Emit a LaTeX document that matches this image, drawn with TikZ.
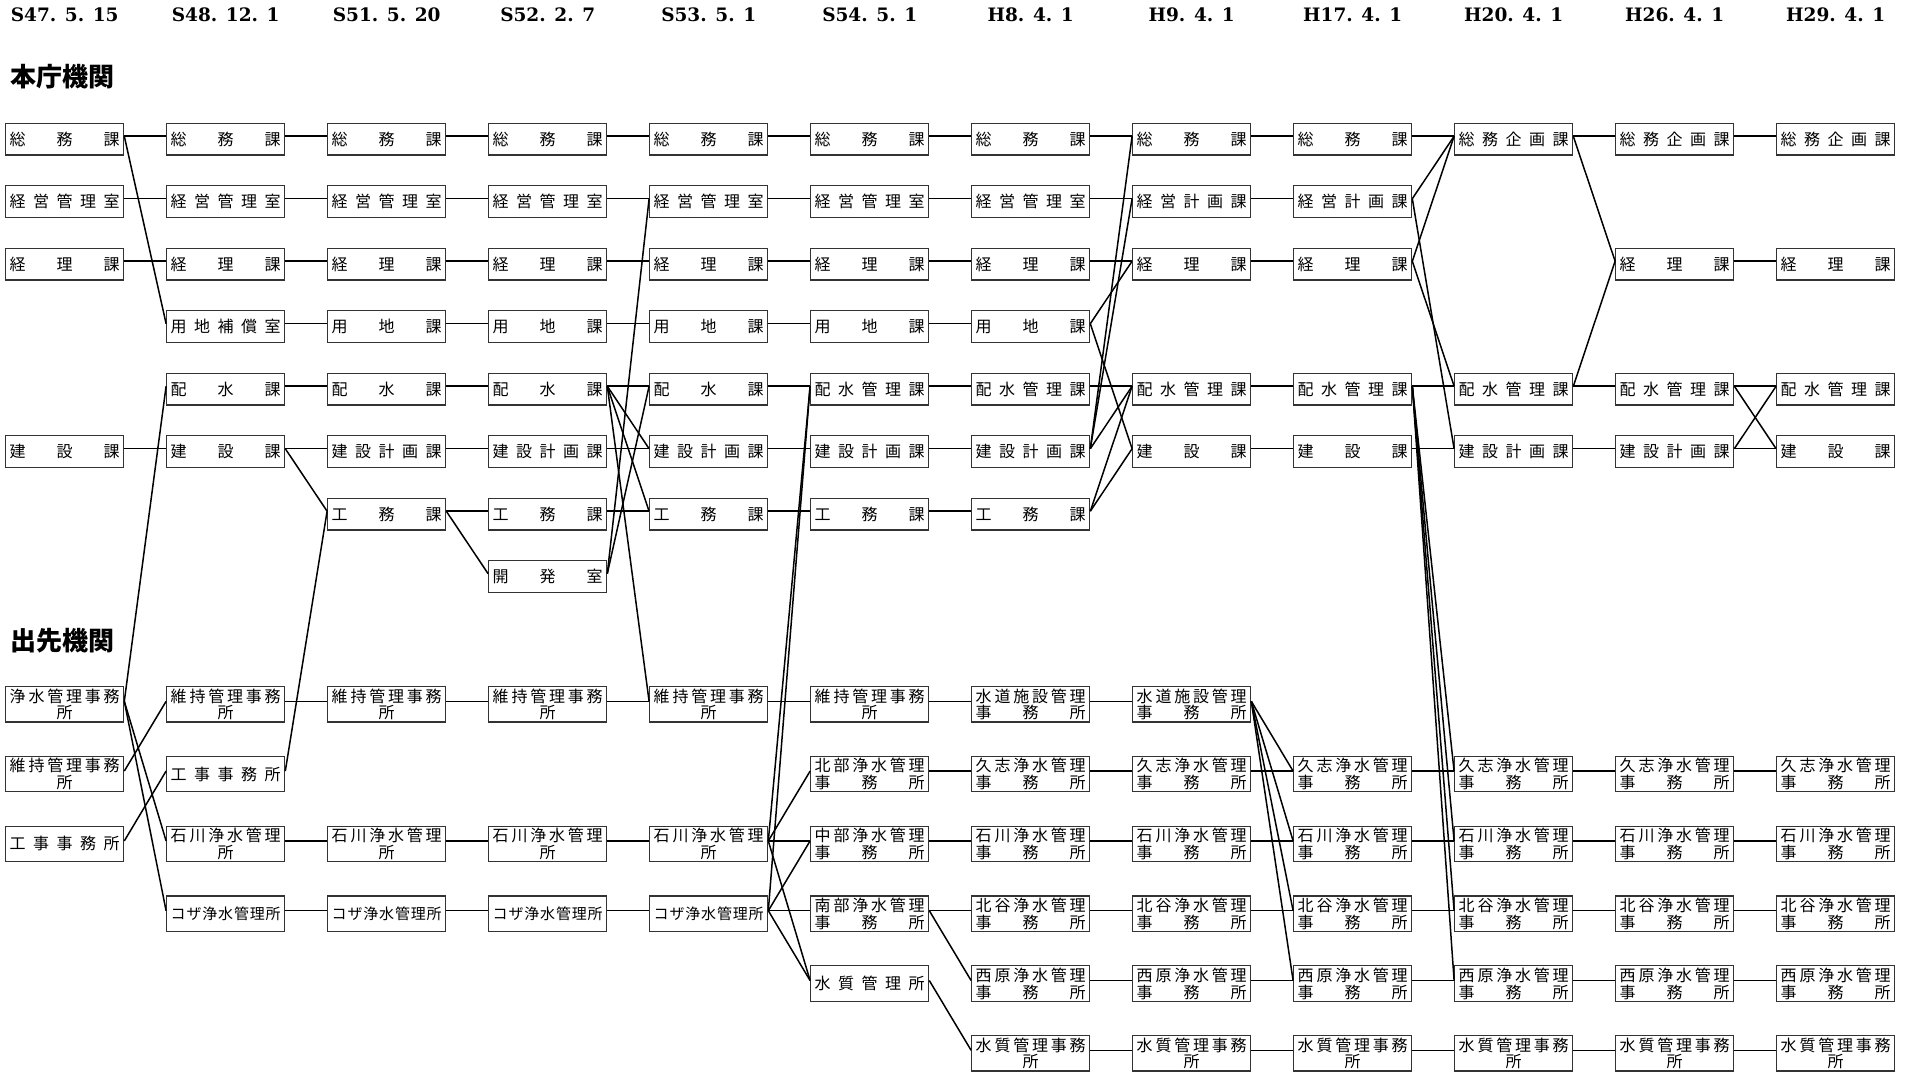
\documentclass[tikz,border=0pt]{standalone}
\usepackage{fontspec}
\newfontfamily\cjk{Noto Sans CJK JP}
\newfontfamily\hdrfont{DejaVu Serif}
\newlength\jw
\setlength\jw{110pt}
\newcommand\jthree[3]{\hbox to \jw{#1\hfill #2\hfill #3}}
\newcommand\jfive[5]{\hbox to \jw{#1\hfill #2\hfill #3\hfill #4\hfill #5}}
\newcommand\jsix[6]{\hbox to \jw{#1\hfill #2\hfill #3\hfill #4\hfill #5\hfill #6}}
\newcommand\jseven[7]{\hbox to \jw{\fontsize{15pt}{16.6pt}\selectfont #1\hfill #2\hfill #3\hfill #4\hfill #5\hfill #6\hfill #7}}
\newcommand\jtc[6]{\vbox{\baselineskip=16.8pt\lineskiplimit=-20pt\jsix{#1}{#2}{#3}{#4}{#5}{#6}\hbox to\jw{\hfill 所\hfill}}}
\newcommand\jts[6]{\vbox{\baselineskip=16.8pt\lineskiplimit=-20pt\jsix{#1}{#2}{#3}{#4}{#5}{#6}\jthree 事務所}}
\newcommand\LSomu{\jthree 総務課}
\newcommand\LKeiei{\jfive 経営管理室}
\newcommand\LKeiri{\jthree 経理課}
\newcommand\LKensetsu{\jthree 建設課}
\newcommand\LYochiH{\jfive 用地補償室}
\newcommand\LHaisui{\jthree 配水課}
\newcommand\LYochi{\jthree 用地課}
\newcommand\LKenkei{\jfive 建設計画課}
\newcommand\LKomu{\jthree 工務課}
\newcommand\LKaihatsu{\jthree 開発室}
\newcommand\LHaikan{\jfive 配水管理課}
\newcommand\LKeikei{\jfive 経営計画課}
\newcommand\LSokiku{\jfive 総務企画課}
\newcommand\LJosui{\jtc 浄水管理事務}
\newcommand\LIji{\jtc 維持管理事務}
\newcommand\LKoji{\jfive 工事事務所}
\newcommand\LIshiS{\jtc 石川浄水管理}
\newcommand\LKoza{\jseven コザ浄水管理所}
\newcommand\LHokubu{\jts 北部浄水管理}
\newcommand\LChubu{\jts 中部浄水管理}
\newcommand\LNanbu{\jts 南部浄水管理}
\newcommand\LSuiS{\jfive 水質管理所}
\newcommand\LSuido{\jts 水道施設管理}
\newcommand\LKushi{\jts 久志浄水管理}
\newcommand\LIshi{\jts 石川浄水管理}
\newcommand\LChatan{\jts 北谷浄水管理}
\newcommand\LNishi{\jts 西原浄水管理}
\newcommand\LSuiJ{\jtc 水質管理事務}
\newcommand\hn[3]{\node[hbx] (h#1r#2) at ({64.7+161*#1},{139.2+62.5*#2}) {#3};}
\newcommand\dn[3]{\node[dbx] (d#1r#2) at ({64.7+161*#1},{704.3+69.8*#2}) {#3};}
\newcommand\lk[2]{\draw[conn] ([yshift=3pt]#1.east) -- ([yshift=3pt]#2.west);}
\tikzset{
  orgbox/.style={draw=black!80, line width=1.2pt, inner sep=0pt, minimum width=118pt,
    font=\cjk\fontsize{16pt}{16.8pt}\selectfont},
  hbx/.style={orgbox, minimum height=31.7pt},
  dbx/.style={orgbox, minimum height=35.5pt},
  conn/.style={line width=1.5pt, black},
  hdrsty/.style={font=\hdrfont\bfseries\fontsize{18.5pt}{22pt}\selectfont, inner sep=0pt},
  ttlsty/.style={font=\cjk\bfseries\fontsize{26pt}{30pt}\selectfont, inner sep=0pt, anchor=west},
}
\begin{document}
\begin{tikzpicture}[x=1pt,y=-1pt]
\useasboundingbox (0,0) rectangle (1914,1073);
% headers
\node[hdrsty] (t0) at ({64.7+161*0},15) {S47. 5. 15};
\node[hdrsty] (t1) at ({64.7+161*1},15) {S48. 12. 1};
\node[hdrsty] (t2) at ({64.7+161*2},15) {S51. 5. 20};
\node[hdrsty] (t3) at ({64.7+161*3},15) {S52. 2. 7};
\node[hdrsty] (t4) at ({64.7+161*4},15) {S53. 5. 1};
\node[hdrsty] (t5) at ({64.7+161*5},15) {S54. 5. 1};
\node[hdrsty] (t6) at ({64.7+161*6},15) {H8. 4. 1};
\node[hdrsty] (t7) at ({64.7+161*7},15) {H9. 4. 1};
\node[hdrsty] (t8) at ({64.7+161*8},15) {H17. 4. 1};
\node[hdrsty] (t9) at ({64.7+161*9},15) {H20. 4. 1};
\node[hdrsty] (t10) at ({64.7+161*10},15) {H26. 4. 1};
\node[hdrsty] (t11) at ({64.7+161*11},15) {H29. 4. 1};
\node[ttlsty] (honcho) at (10,76.7) {本庁機関};
\node[ttlsty] (desaki) at (10,641) {出先機関};
% col0
\hn{0}{0}{\LSomu}\hn{0}{1}{\LKeiei}\hn{0}{2}{\LKeiri}\hn{0}{5}{\LKensetsu}
\dn{0}{0}{\LJosui}\dn{0}{1}{\LIji}\dn{0}{2}{\LKoji}
% col1
\hn{1}{0}{\LSomu}\hn{1}{1}{\LKeiei}\hn{1}{2}{\LKeiri}\hn{1}{3}{\LYochiH}\hn{1}{4}{\LHaisui}\hn{1}{5}{\LKensetsu}
\dn{1}{0}{\LIji}\dn{1}{1}{\LKoji}\dn{1}{2}{\LIshiS}\dn{1}{3}{\LKoza}
% col2
\hn{2}{0}{\LSomu}\hn{2}{1}{\LKeiei}\hn{2}{2}{\LKeiri}\hn{2}{3}{\LYochi}\hn{2}{4}{\LHaisui}\hn{2}{5}{\LKenkei}\hn{2}{6}{\LKomu}
\dn{2}{0}{\LIji}\dn{2}{2}{\LIshiS}\dn{2}{3}{\LKoza}
% col3
\hn{3}{0}{\LSomu}\hn{3}{1}{\LKeiei}\hn{3}{2}{\LKeiri}\hn{3}{3}{\LYochi}\hn{3}{4}{\LHaisui}\hn{3}{5}{\LKenkei}\hn{3}{6}{\LKomu}\hn{3}{7}{\LKaihatsu}
\dn{3}{0}{\LIji}\dn{3}{2}{\LIshiS}\dn{3}{3}{\LKoza}
% col4
\hn{4}{0}{\LSomu}\hn{4}{1}{\LKeiei}\hn{4}{2}{\LKeiri}\hn{4}{3}{\LYochi}\hn{4}{4}{\LHaisui}\hn{4}{5}{\LKenkei}\hn{4}{6}{\LKomu}
\dn{4}{0}{\LIji}\dn{4}{2}{\LIshiS}\dn{4}{3}{\LKoza}
% col5
\hn{5}{0}{\LSomu}\hn{5}{1}{\LKeiei}\hn{5}{2}{\LKeiri}\hn{5}{3}{\LYochi}\hn{5}{4}{\LHaikan}\hn{5}{5}{\LKenkei}\hn{5}{6}{\LKomu}
\dn{5}{0}{\LIji}\dn{5}{1}{\LHokubu}\dn{5}{2}{\LChubu}\dn{5}{3}{\LNanbu}\dn{5}{4}{\LSuiS}
% col6
\hn{6}{0}{\LSomu}\hn{6}{1}{\LKeiei}\hn{6}{2}{\LKeiri}\hn{6}{3}{\LYochi}\hn{6}{4}{\LHaikan}\hn{6}{5}{\LKenkei}\hn{6}{6}{\LKomu}
\dn{6}{0}{\LSuido}\dn{6}{1}{\LKushi}\dn{6}{2}{\LIshi}\dn{6}{3}{\LChatan}\dn{6}{4}{\LNishi}\dn{6}{5}{\LSuiJ}
% col7
\hn{7}{0}{\LSomu}\hn{7}{1}{\LKeikei}\hn{7}{2}{\LKeiri}\hn{7}{4}{\LHaikan}\hn{7}{5}{\LKensetsu}
\dn{7}{0}{\LSuido}\dn{7}{1}{\LKushi}\dn{7}{2}{\LIshi}\dn{7}{3}{\LChatan}\dn{7}{4}{\LNishi}\dn{7}{5}{\LSuiJ}
% col8
\hn{8}{0}{\LSomu}\hn{8}{1}{\LKeikei}\hn{8}{2}{\LKeiri}\hn{8}{4}{\LHaikan}\hn{8}{5}{\LKensetsu}
\dn{8}{1}{\LKushi}\dn{8}{2}{\LIshi}\dn{8}{3}{\LChatan}\dn{8}{4}{\LNishi}\dn{8}{5}{\LSuiJ}
% col9
\hn{9}{0}{\LSokiku}\hn{9}{4}{\LHaikan}\hn{9}{5}{\LKenkei}
\dn{9}{1}{\LKushi}\dn{9}{2}{\LIshi}\dn{9}{3}{\LChatan}\dn{9}{4}{\LNishi}\dn{9}{5}{\LSuiJ}
% col10
\hn{10}{0}{\LSokiku}\hn{10}{2}{\LKeiri}\hn{10}{4}{\LHaikan}\hn{10}{5}{\LKenkei}
\dn{10}{1}{\LKushi}\dn{10}{2}{\LIshi}\dn{10}{3}{\LChatan}\dn{10}{4}{\LNishi}\dn{10}{5}{\LSuiJ}
% col11
\hn{11}{0}{\LSokiku}\hn{11}{2}{\LKeiri}\hn{11}{4}{\LHaikan}\hn{11}{5}{\LKensetsu}
\dn{11}{1}{\LKushi}\dn{11}{2}{\LIshi}\dn{11}{3}{\LChatan}\dn{11}{4}{\LNishi}\dn{11}{5}{\LSuiJ}
% ---- connectors 0->1
\lk{h0r0}{h1r0}\lk{h0r0}{h1r3}\lk{h0r1}{h1r1}\lk{h0r2}{h1r2}\lk{h0r5}{h1r5}
\lk{d0r0}{h1r4}\lk{d0r0}{d1r2}\lk{d0r0}{d1r3}\lk{d0r1}{d1r0}\lk{d0r2}{d1r1}
% 1->2
\lk{h1r0}{h2r0}\lk{h1r1}{h2r1}\lk{h1r2}{h2r2}\lk{h1r3}{h2r3}\lk{h1r4}{h2r4}\lk{h1r5}{h2r5}\lk{h1r5}{h2r6}
\lk{d1r1}{h2r6}\lk{d1r0}{d2r0}\lk{d1r2}{d2r2}\lk{d1r3}{d2r3}
% 2->3
\lk{h2r0}{h3r0}\lk{h2r1}{h3r1}\lk{h2r2}{h3r2}\lk{h2r3}{h3r3}\lk{h2r4}{h3r4}\lk{h2r5}{h3r5}\lk{h2r6}{h3r6}\lk{h2r6}{h3r7}
\lk{d2r0}{d3r0}\lk{d2r2}{d3r2}\lk{d2r3}{d3r3}
% 3->4
\lk{h3r0}{h4r0}\lk{h3r1}{h4r1}\lk{h3r2}{h4r2}\lk{h3r3}{h4r3}
\lk{h3r4}{h4r4}\lk{h3r4}{h4r5}\lk{h3r4}{h4r6}\lk{h3r4}{d4r0}
\lk{h3r5}{h4r5}\lk{h3r6}{h4r6}\lk{h3r7}{h4r1}\lk{h3r7}{h4r4}
\lk{d3r0}{d4r0}\lk{d3r2}{d4r2}\lk{d3r3}{d4r3}
% 4->5
\lk{h4r0}{h5r0}\lk{h4r1}{h5r1}\lk{h4r2}{h5r2}\lk{h4r3}{h5r3}\lk{h4r4}{h5r4}\lk{h4r5}{h5r5}\lk{h4r6}{h5r6}
\lk{d4r0}{d5r0}\lk{d4r2}{h5r4}\lk{d4r3}{h5r4}
\lk{d4r2}{d5r1}\lk{d4r2}{d5r2}\lk{d4r2}{d5r4}
\lk{d4r3}{d5r2}\lk{d4r3}{d5r3}\lk{d4r3}{d5r4}
% 5->6
\lk{h5r0}{h6r0}\lk{h5r1}{h6r1}\lk{h5r2}{h6r2}\lk{h5r3}{h6r3}\lk{h5r4}{h6r4}\lk{h5r5}{h6r5}\lk{h5r6}{h6r6}
\lk{d5r0}{d6r0}\lk{d5r1}{d6r1}\lk{d5r2}{d6r2}\lk{d5r3}{d6r3}\lk{d5r3}{d6r4}\lk{d5r4}{d6r5}
% 6->7
\lk{h6r0}{h7r0}\lk{h6r1}{h7r1}\lk{h6r2}{h7r2}\lk{h6r3}{h7r2}\lk{h6r3}{h7r5}
\lk{h6r4}{h7r4}\lk{h6r5}{h7r0}\lk{h6r5}{h7r1}\lk{h6r5}{h7r4}\lk{h6r6}{h7r4}\lk{h6r6}{h7r5}
\lk{d6r0}{d7r0}\lk{d6r1}{d7r1}\lk{d6r2}{d7r2}\lk{d6r3}{d7r3}\lk{d6r4}{d7r4}\lk{d6r5}{d7r5}
% 7->8
\lk{h7r0}{h8r0}\lk{h7r1}{h8r1}\lk{h7r2}{h8r2}\lk{h7r4}{h8r4}\lk{h7r5}{h8r5}
\lk{d7r0}{d8r1}\lk{d7r0}{d8r2}\lk{d7r0}{d8r3}\lk{d7r0}{d8r4}
\lk{d7r1}{d8r1}\lk{d7r2}{d8r2}\lk{d7r3}{d8r3}\lk{d7r4}{d8r4}\lk{d7r5}{d8r5}
% 8->9
\lk{h8r0}{h9r0}\lk{h8r1}{h9r0}\lk{h8r2}{h9r0}\lk{h8r1}{h9r5}\lk{h8r2}{h9r4}
\lk{h8r4}{h9r4}\lk{h8r5}{h9r5}
\lk{h8r4}{d9r1}\lk{h8r4}{d9r2}\lk{h8r4}{d9r3}\lk{h8r4}{d9r4}
\lk{d8r1}{d9r1}\lk{d8r2}{d9r2}\lk{d8r3}{d9r3}\lk{d8r4}{d9r4}\lk{d8r5}{d9r5}
% 9->10
\lk{h9r0}{h10r0}\lk{h9r0}{h10r2}\lk{h9r4}{h10r2}\lk{h9r4}{h10r4}\lk{h9r5}{h10r5}
\lk{d9r1}{d10r1}\lk{d9r2}{d10r2}\lk{d9r3}{d10r3}\lk{d9r4}{d10r4}\lk{d9r5}{d10r5}
% 10->11
\lk{h10r0}{h11r0}\lk{h10r2}{h11r2}\lk{h10r4}{h11r4}\lk{h10r4}{h11r5}\lk{h10r5}{h11r4}\lk{h10r5}{h11r5}
\lk{d10r1}{d11r1}\lk{d10r2}{d11r2}\lk{d10r3}{d11r3}\lk{d10r4}{d11r4}\lk{d10r5}{d11r5}
\end{tikzpicture}
\end{document}
